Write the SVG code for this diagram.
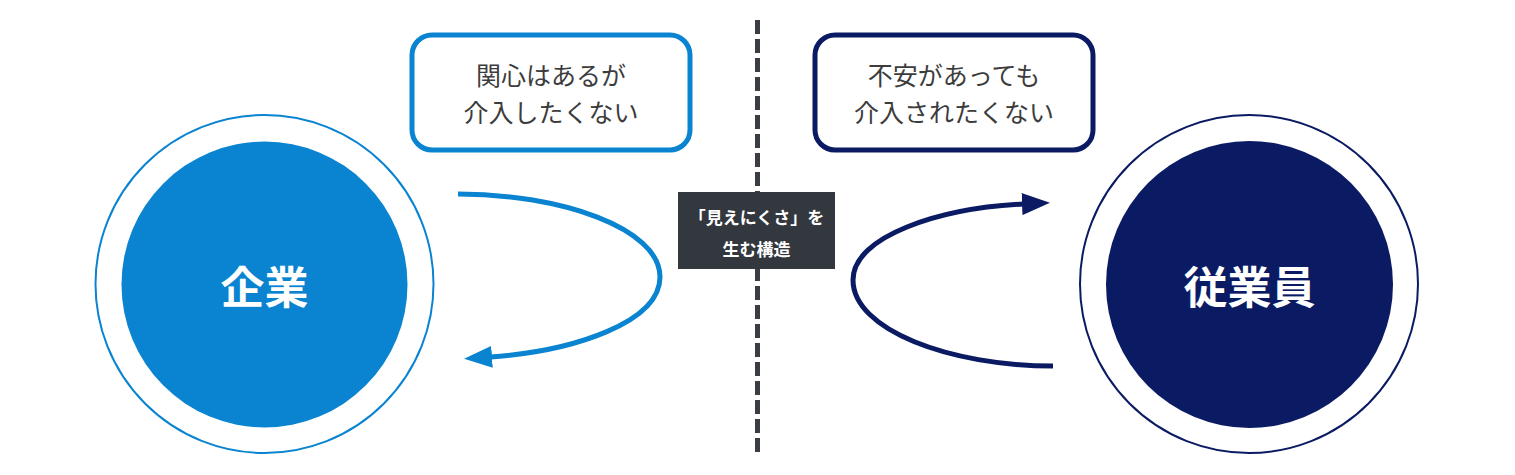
<svg xmlns="http://www.w3.org/2000/svg" width="1515" height="475" viewBox="0 0 1515 475">
<defs>
<style>
.jp{font-family:"Noto Sans CJK JP","Noto Sans CJK SC",sans-serif;}
.box{fill:#ffffff;stroke-width:5;}
.btxt{fill:#3c3c3c;font-size:25px;text-anchor:middle;}
.ctxt{fill:#ffffff;font-size:44px;font-weight:bold;text-anchor:middle;}
.ltxt{fill:#ffffff;font-size:17px;font-weight:bold;text-anchor:middle;}
.arrow{fill:none;stroke-width:5;}
</style>
<marker id="mBlue" markerUnits="userSpaceOnUse" markerWidth="30" markerHeight="22" refX="2" refY="11" orient="auto">
<path d="M0,0 L28,11 L0,22 Z" fill="#0a84d0"/>
</marker>
<marker id="mNavy" markerUnits="userSpaceOnUse" markerWidth="30" markerHeight="22" refX="2" refY="11" orient="auto">
<path d="M0,0 L28,11 L0,22 Z" fill="#0b1b63"/>
</marker>
</defs>
<rect width="1515" height="475" fill="#ffffff"/>
<g id="divider">
<line x1="757.5" y1="20" x2="757.5" y2="452" stroke="#3a3d44" stroke-width="5" stroke-dasharray="14 5"/>
</g>
<g id="kigyo">
<circle cx="264.5" cy="284" r="169" fill="#ffffff" stroke="#0a84d0" stroke-width="2"/>
<circle cx="264.5" cy="284.5" r="143" fill="#0a84d0"/>
<text class="jp ctxt" x="264.5" y="304">企業</text>
</g>
<g id="jugyoin">
<circle cx="1249" cy="284" r="169" fill="#ffffff" stroke="#0b1b63" stroke-width="2"/>
<circle cx="1249.5" cy="284.5" r="143.5" fill="#0b1b63"/>
<text class="jp ctxt" x="1249.5" y="304">従業員</text>
</g>
<g id="box-left">
<rect class="box" x="412" y="35" width="278" height="115" rx="20" stroke="#0a84d0"/>
<text class="jp btxt" x="551" y="85">関心はあるが</text>
<text class="jp btxt" x="551" y="122">介入したくない</text>
</g>
<g id="box-right">
<rect class="box" x="815" y="35" width="278" height="115" rx="20" stroke="#0b1b63"/>
<text class="jp btxt" x="954" y="85">不安があっても</text>
<text class="jp btxt" x="954" y="122">介入されたくない</text>
</g>
<g id="label-center">
<rect x="678" y="192" width="157" height="77" fill="#33373e"/>
<text class="jp ltxt" x="756.5" y="224">「見えにくさ」を</text>
<text class="jp ltxt" x="756.5" y="256">生む構造</text>
</g>
<g id="connectors">
<path class="arrow" stroke="#0a84d0" d="M458,194 C560,194 660,228 660,277 C660,322 575,351 490,357" marker-end="url(#mBlue)"/>
<path class="arrow" stroke="#0b1b63" d="M1053,366 C950,366 853,330 853,280 C853,236 940,208 1024,204" marker-end="url(#mNavy)"/>
</g>
</svg>
